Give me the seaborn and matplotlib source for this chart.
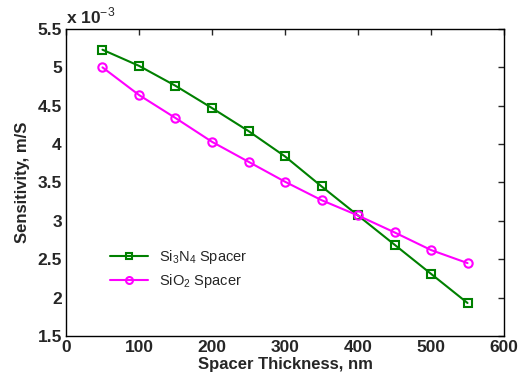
import numpy as np
import pandas as pd
import matplotlib
matplotlib.use("Agg")
import matplotlib.pyplot as plt
import seaborn as sns

# 数据（单位 x 10^-3 m/S）
thickness = [50, 100, 150, 200, 250, 300, 350, 400, 450, 500, 550]
si3n4 = [5.23, 5.02, 4.76, 4.47, 4.17, 3.84, 3.45, 3.07, 2.69, 2.31, 1.93]
sio2 = [5.00, 4.64, 4.34, 4.03, 3.77, 3.51, 3.27, 3.07, 2.85, 2.62, 2.45]
x_ticks = [0, 100, 200, 300, 400, 500, 600]
y_ticks = [1.5, 2, 2.5, 3, 3.5, 4, 4.5, 5, 5.5]

sns.set_style("white")
plt.rcParams["font.family"] = ["Liberation Sans", "DejaVu Sans"]
plt.rcParams["mathtext.fontset"] = "custom"
plt.rcParams["mathtext.rm"] = "Liberation Sans"

fig = plt.figure(figsize=(5.3, 3.84), dpi=100)
ax = fig.add_axes([0.1245, 0.125, 0.8265, 0.7995])

df1 = pd.DataFrame({"x": thickness, "y": si3n4})
df2 = pd.DataFrame({"x": thickness, "y": sio2})
sns.lineplot(data=df1, x="x", y="y", ax=ax, color="#008000", marker="s",
             markersize=6, markerfacecolor="none", markeredgecolor="#008000",
             markeredgewidth=1.5, linewidth=1.5, label="Si$_3$N$_4$ Spacer")
sns.lineplot(data=df2, x="x", y="y", ax=ax, color="#ff00ff", marker="o",
             markersize=6, markerfacecolor="none", markeredgecolor="#ff00ff",
             markeredgewidth=1.5, linewidth=1.5, label="SiO$_2$ Spacer")

ax.set_xlim(0, 600)
ax.set_ylim(1.5, 5.5)
ax.set_xticks(x_ticks)
ax.set_yticks(y_ticks)
ax.set_xticklabels([str(v) for v in x_ticks], fontsize=12.5, fontweight="bold")
ax.set_yticklabels([f"{v:g}" for v in y_ticks], fontsize=12.5, fontweight="bold")
ax.tick_params(direction="in", top=True, right=True, length=4, width=1, pad=3)
for sp in ax.spines.values():
    sp.set_visible(True)
    sp.set_color("black")
    sp.set_linewidth(1)

ax.set_xlabel("Spacer Thickness, nm", fontsize=12, fontweight="bold", labelpad=1)
ax.set_ylabel("Sensitivity, m/S", fontsize=12, fontweight="bold", labelpad=5)
ax.text(0.0, 1.01, "x 10$^{-3}$", transform=ax.transAxes, fontsize=12.5,
        fontweight="bold", ha="left", va="bottom")

leg = ax.legend(loc="upper left", bbox_to_anchor=(0.07, 0.33), frameon=False,
                fontsize=10.5, handlelength=2.6, labelspacing=0.45)
for h in leg.legend_handles:
    h.set_markersize(5)

fig.savefig("out.png", dpi=100)
